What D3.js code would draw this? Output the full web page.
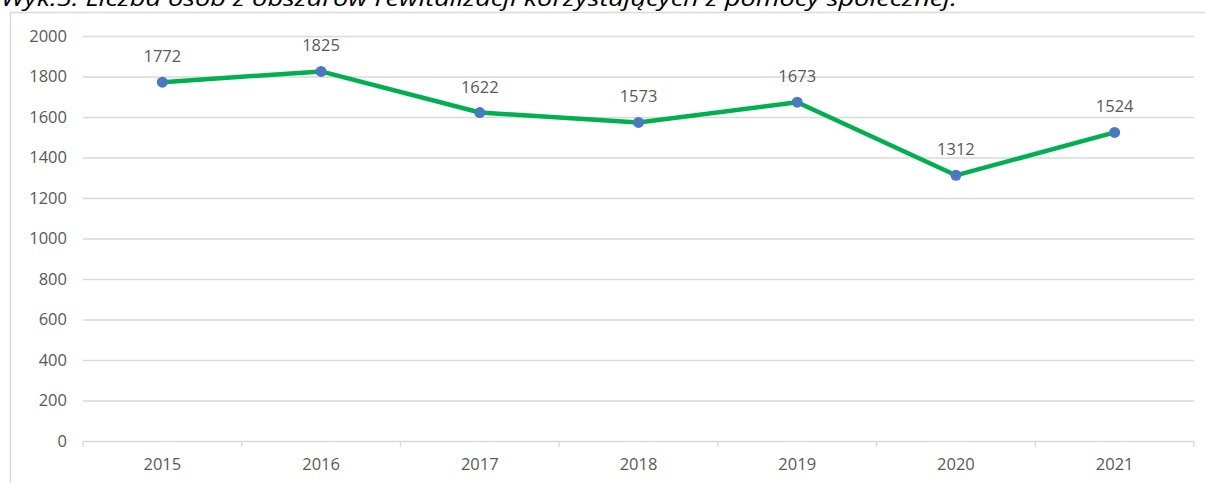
<!DOCTYPE html>
<html><head><meta charset="utf-8">
<script src="https://cdn.jsdelivr.net/npm/d3@7"></script>
<style>body{margin:0;background:#fff}svg{display:block}</style>
</head><body>
<svg id="c" width="1205" height="483"></svg>
<script>
const title = "Wyk.5. Liczba osób z obszarów rewitalizacji korzystających z pomocy społecznej.";
const years = ["2015","2016","2017","2018","2019","2020","2021"];
const values = [1772,1825,1622,1573,1673,1312,1524];
const yTicks = [0,200,400,600,800,1000,1200,1400,1600,1800,2000];

(function(){
const svg = d3.select("#c");
const W = 1205, H = 483;
const mLeft = 83, mRight = 1194, mTop = 36, mBottom = 441;
const textColor = "#595959", gridColor = "#d9d9d9";

// outer frame
svg.append("path").attr("d", `M10.5,${H} V12.5 H${W}`).attr("fill","none").attr("stroke","#d9d9d9").attr("stroke-width",1.5);

// title (clipped at the top edge as in the reference)
svg.append("text").attr("x",1).attr("y",6)
  .attr("font-family","'Open Sans', 'Liberation Sans', sans-serif")
  .attr("font-style","italic").attr("font-size",22).attr("fill","#000")
  .attr("textLength",956).attr("lengthAdjust","spacingAndGlyphs")
  .text(title);

const x = d3.scaleBand().domain(years).range([mLeft, mRight]).padding(0);
const y = d3.scaleLinear().domain([0,2000]).range([mBottom, mTop]);

const font = "'Open Sans', sans-serif", fs = 16.5;

// gridlines
const gy = svg.append("g").attr("transform",`translate(${mLeft},0)`)
  .call(d3.axisLeft(y).tickValues(yTicks).tickFormat(d3.format("d")).tickSize(-(mRight-mLeft)).tickPadding(16));
gy.select(".domain").remove();
gy.selectAll(".tick line").attr("stroke",gridColor).attr("stroke-width",1.3);
gy.selectAll(".tick text").attr("fill",textColor).attr("font-family",font).attr("font-size",fs);
gy.selectAll(".tick").filter(d=>d===0).select("line").remove();

// x axis
const gx = svg.append("g").attr("transform",`translate(0,${mBottom})`)
  .call(d3.axisBottom(x).tickSize(0).tickPadding(17));
gx.select(".domain").attr("stroke",gridColor).attr("stroke-width",1.3).attr("d",`M${mLeft},0.5H${mRight}`);
gx.selectAll(".tick text").attr("fill",textColor).attr("font-family",font).attr("font-size",fs);
const bounds = years.map(d=>x(d)).concat([mRight]);
svg.append("g").selectAll("line").data(bounds).join("line")
  .attr("x1",d=>d).attr("x2",d=>d).attr("y1",mBottom).attr("y2",mBottom+6)
  .attr("stroke",gridColor).attr("stroke-width",1.3);

const cx = d => x(d) + x.bandwidth()/2;
const pts = years.map((d,i)=>({year:d, v:values[i]}));

svg.append("path").datum(pts)
  .attr("d", d3.line().x(d=>cx(d.year)).y(d=>y(d.v)))
  .attr("fill","none").attr("stroke","#00B050").attr("stroke-width",4.5).attr("stroke-linejoin","round");

svg.append("g").selectAll("circle").data(pts).join("circle")
  .attr("cx",d=>cx(d.year)).attr("cy",d=>y(d.v)).attr("r",5.5).attr("fill","#4A78C2");

svg.append("g").selectAll("text").data(pts).join("text")
  .attr("x",d=>cx(d.year)).attr("y",d=>y(d.v)-20)
  .attr("text-anchor","middle").attr("fill",textColor).attr("font-family",font).attr("font-size",fs)
  .text(d=>d.v);
})();
</script>
</body></html>
